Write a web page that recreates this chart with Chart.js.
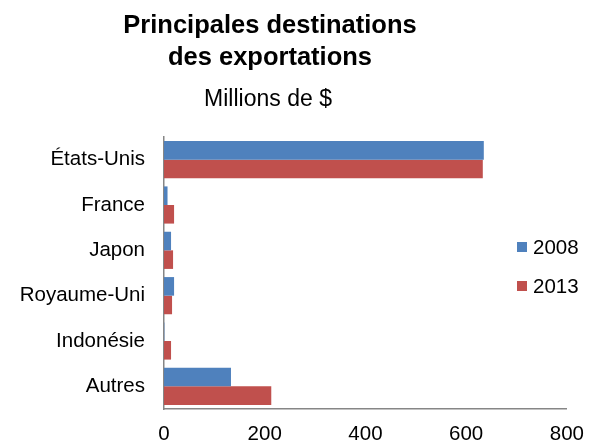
<!DOCTYPE html>
<html>
<head>
<meta charset="utf-8">
<script src="https://cdn.jsdelivr.net/npm/chart.js@4"></script>
<style>
html,body{margin:0;padding:0;background:#fff;}
#wrap{width:597px;height:447px;position:relative;}
</style>
</head>
<body>
<div id="wrap"><canvas id="c" width="597" height="447"></canvas></div>
<script>
const titleLines = ["Principales destinations", "des exportations"];
const subtitleText = "Millions de $";
const categories = ["États-Unis", "France", "Japon", "Royaume-Uni", "Indonésie", "Autres"];
const seriesNames = ["2008", "2013"];
const values2008 = [635, 7, 14, 20, 0.7, 133];
const values2013 = [633, 20, 18, 16, 14, 213];
const xTicks = [0, 200, 400, 600, 800];

const FONT = "'Liberation Sans', Arial, sans-serif";

const textPlugin = {
  id: 'textPlugin',
  afterDraw(chart) {
    const ctx = chart.ctx;
    ctx.save();
    ctx.fillStyle = '#000';
    ctx.textAlign = 'center';
    ctx.textBaseline = 'alphabetic';
    ctx.font = "bold 25.5px " + FONT;
    ctx.fillText(titleLines[0], 270, 33);
    ctx.fillText(titleLines[1], 270, 65);
    ctx.font = "23px " + FONT;
    ctx.fillText(subtitleText, 268, 106);
    // legend
    ctx.textAlign = 'left';
    ctx.font = "20.5px " + FONT;
    const ys = [247, 286];
    chart.data.datasets.forEach((ds, i) => {
      ctx.fillStyle = ds.backgroundColor;
      ctx.fillRect(517, ys[i] - 5, 10, 10);
      ctx.fillStyle = '#000';
      ctx.fillText(ds.label, 533, ys[i] + 7);
    });
    ctx.restore();
  }
};

new Chart(document.getElementById('c'), {
  type: 'bar',
  data: {
    labels: categories,
    datasets: [
      { label: seriesNames[0], data: values2008, backgroundColor: '#4F81BD', categoryPercentage: 0.82, barPercentage: 1.0 },
      { label: seriesNames[1], data: values2013, backgroundColor: '#C0504D', categoryPercentage: 0.82, barPercentage: 1.0 }
    ]
  },
  options: {
    indexAxis: 'y',
    responsive: false,
    animation: false,
    devicePixelRatio: 1,
    layout: { padding: { top: 137, right: 27, bottom: 0, left: 0 } },
    plugins: {
      legend: { display: false },
      title: { display: false },
      tooltip: { enabled: false }
    },
    scales: {
      x: {
        min: 0, max: 800,
        afterBuildTicks(scale) { scale.ticks = xTicks.map(v => ({ value: v })); },
        afterFit(scale) { scale.height = 38; },
        grid: { display: false, drawTicks: false },
        border: { display: true, color: '#868686', width: 1.5 },
        ticks: { color: '#000', font: { family: FONT, size: 20.5 }, padding: 13 }
      },
      y: {
        afterFit(scale) { scale.width = 164; },
        grid: { display: false, drawTicks: false },
        border: { display: true, color: '#868686', width: 1.5 },
        ticks: { color: '#000', font: { family: FONT, size: 20.5 }, padding: 19 }
      }
    }
  },
  plugins: [textPlugin]
});
</script>
</body>
</html>
